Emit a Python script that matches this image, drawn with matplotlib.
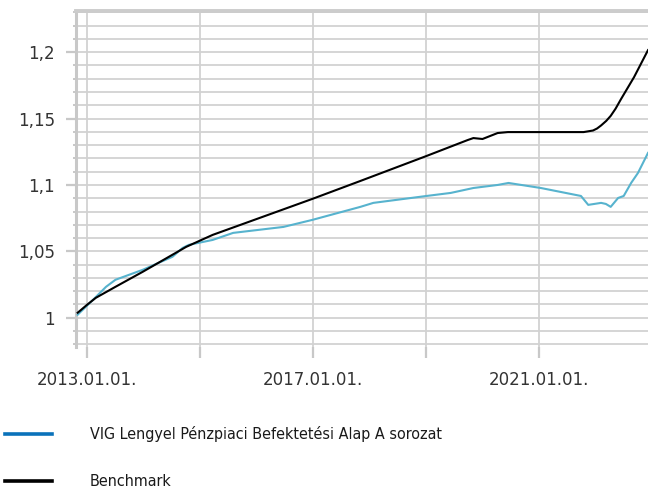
import matplotlib
matplotlib.use("Agg")
import matplotlib.pyplot as plt
import matplotlib.dates as mdates
from matplotlib.lines import Line2D
from matplotlib.ticker import FixedLocator, MultipleLocator, FuncFormatter
import pandas as pd

# Benchmark (fekete vonal)
bench_dates = ["2012-11-03", "2013-01-05", "2013-02-28", "2013-07-05", "2013-12-28",
               "2014-07-30", "2014-10-05", "2015-03-25", "2016-12-28", "2017-11-03",
               "2019-01-04", "2019-09-27", "2019-11-03", "2020-01-01", "2020-04-08",
               "2020-06-13", "2021-10-15", "2021-12-15", "2022-01-10", "2022-02-05",
               "2022-03-10", "2022-04-08", "2022-05-10", "2022-06-13", "2022-09-06",
               "2022-12-05"]
bench_vals = [1.0038, 1.0100, 1.0150, 1.0233, 1.0346,
              1.0489, 1.0534, 1.0624, 1.0895, 1.1030,
              1.1218, 1.1338, 1.1353, 1.1346, 1.1391,
              1.1398, 1.1398, 1.1410, 1.1425, 1.1448,
              1.1482, 1.1520, 1.1575, 1.1645, 1.1812,
              1.2015]

# VIG Lengyel Pénzpiaci alap (kék vonal)
fund_dates = ["2012-11-03", "2013-02-10", "2013-05-05", "2013-07-05", "2013-12-28",
              "2014-07-08", "2014-09-12", "2014-10-22", "2015-03-25", "2015-08-04",
              "2016-06-24", "2016-12-28", "2017-11-03", "2018-01-26", "2019-01-04",
              "2019-06-10", "2019-11-03", "2020-04-08", "2020-06-17", "2021-01-12",
              "2021-09-28", "2021-11-14", "2022-02-05", "2022-03-08", "2022-04-08",
              "2022-05-26", "2022-07-01", "2022-08-18", "2022-10-01", "2022-12-05"]
fund_vals = [1.0023, 1.0135, 1.0233, 1.0286, 1.0361,
             1.0459, 1.0526, 1.0549, 1.0586, 1.0639,
             1.0684, 1.0737, 1.0835, 1.0865, 1.0917,
             1.0940, 1.0977, 1.1000, 1.1015, 1.0977,
             1.0917, 1.0850, 1.0865, 1.0857, 1.0835,
             1.0902, 1.0917, 1.1015, 1.1090, 1.1241]

y_major = [1.0, 1.05, 1.1, 1.15, 1.2]
y_labels = ["1", "1,05", "1,1", "1,15", "1,2"]
x_grid_years = [2013, 2015, 2017, 2019, 2021, 2023]
x_label_years = [2013, 2017, 2021]

legend_labels = ["VIG Lengyel Pénzpiaci Befektetési Alap A sorozat", "Benchmark"]

bench_x = pd.to_datetime(bench_dates)
fund_x = pd.to_datetime(fund_dates)

grid_c = "#d2d2d2"
fig = plt.figure(figsize=(6.48, 4.87), dpi=100)
ax = fig.add_axes([0.117, 0.2875, 0.883, 0.69])

ax.plot(fund_x, fund_vals, color="#57b3ce", lw=1.5, zorder=3)
ax.plot(bench_x, bench_vals, color="black", lw=1.5, zorder=4)

ax.set_xlim(pd.Timestamp("2012-10-22"), pd.Timestamp("2022-12-05"))
ax.set_ylim(0.978, 1.231)

ax.yaxis.set_major_locator(FixedLocator(y_major))
ax.set_yticklabels(y_labels)
ax.yaxis.set_minor_locator(MultipleLocator(0.01))

xt = [mdates.date2num(pd.Timestamp(f"{y}-01-01")) for y in x_grid_years]
ax.xaxis.set_major_locator(FixedLocator(xt))
ax.xaxis.set_major_formatter(FuncFormatter(
    lambda v, p: f"{mdates.num2date(v).year}.01.01." if mdates.num2date(v).year in x_label_years else ""))

ax.grid(True, which="both", color=grid_c, lw=1.3, zorder=0)
ax.set_axisbelow(True)

for s in ["right", "bottom"]:
    ax.spines[s].set_visible(False)
ax.spines["left"].set_color("#c8c8c8")
ax.spines["left"].set_linewidth(2.2)
ax.spines["top"].set_color("#cccccc")
ax.spines["top"].set_linewidth(2.8)

ax.tick_params(axis="y", which="major", length=7, width=1.6, color="#c8c8c8",
               labelsize=12, labelcolor="#333333", pad=8)
ax.tick_params(axis="y", which="minor", length=2.5, width=1.4, color="#c8c8c8")
ax.tick_params(axis="x", which="major", length=8, width=1.6, color="#c8c8c8",
               labelsize=12, labelcolor="#333333", pad=9)

# legend below the chart, condensed text fitted to roughly the original width
renderer = fig.canvas.get_renderer()
texts = []
for yy, col, lab in [(434, "#0a72ba", legend_labels[0]), (481, "black", legend_labels[1])]:
    yf = 1 - yy / 487
    fig.add_artist(Line2D([5 / 648, 52 / 648], [yf, yf], color=col, lw=2.6,
                          transform=fig.transFigure))
    t = fig.text(90 / 648, yf, lab, va="center", ha="left", fontsize=13,
                 family="DejaVu Sans", fontstretch="condensed", color="#1a1a1a")
    texts.append(t)

w = texts[0].get_window_extent(renderer).width
fs = 13 * 352 / w
for t in texts:
    t.set_fontsize(fs)

fig.savefig("out.png", dpi=100)
